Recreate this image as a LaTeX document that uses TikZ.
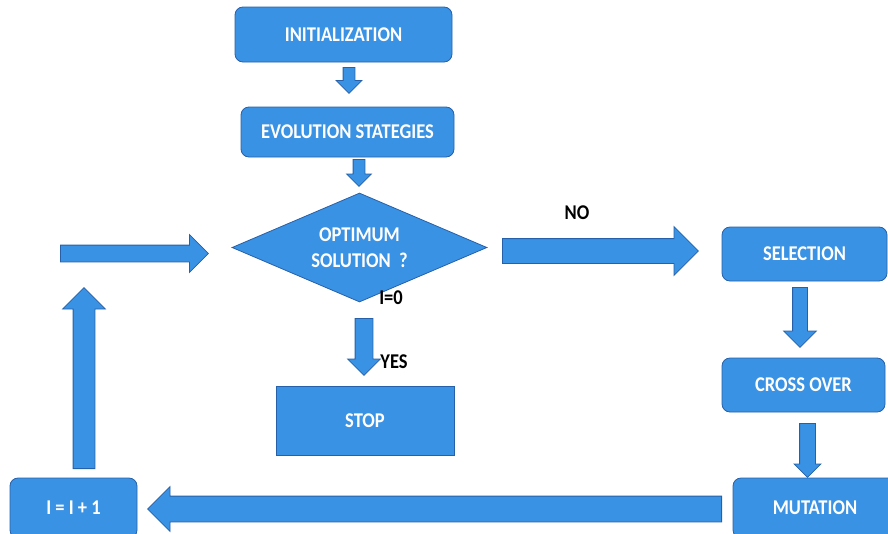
\documentclass[tikz,border=0pt]{standalone}
\usepackage{fontspec}
\setmainfont{Carlito}[FakeStretch=0.88]
\usetikzlibrary{shapes.geometric,shapes.arrows}
\definecolor{boxblue}{RGB}{58,146,228}
\definecolor{edgeblue}{RGB}{38,96,168}
\begin{document}
\begin{tikzpicture}[x=1pt,y=-1pt]
\tikzstyle{every node}=[font=\fontsize{21}{26}\selectfont\bfseries]
\tikzstyle{box}=[draw=edgeblue,fill=boxblue,text=white,line width=0.8pt,rounded corners=8pt,inner sep=0pt]
\tikzstyle{barrow}=[draw=edgeblue,fill=boxblue,line width=0.8pt,single arrow,inner xsep=0pt,single arrow tip angle=90,anchor=tail]
\useasboundingbox (0,0) rectangle (888,533);
% boxes
\node[box,minimum width=217pt,minimum height=55pt](init) at (343.5,34.5) {INITIALIZATION};
\node[box,minimum width=213pt,minimum height=50pt](evo) at (347.5,132) {EVOLUTION STATEGIES};
\node[box,diamond,rounded corners=0pt,aspect=2.34,minimum width=255pt,minimum height=109pt,align=center](opt) at (359.5,247.5) {OPTIMUM\\SOLUTION\ \ ?};
\node[box,rounded corners=0pt,minimum width=178pt,minimum height=69pt](stop) at (365,420.5) {STOP};
\node[box,minimum width=165pt,minimum height=54pt](sel) at (804.5,254) {SELECTION};
\node[box,minimum width=163pt,minimum height=54pt](cross) at (803.5,385) {CROSS OVER};
\node[box,minimum width=164pt,minimum height=60pt](mut) at (815,508) {MUTATION};
\node[box,minimum width=127pt,minimum height=60pt](inc) at (73.5,508) {I = I + 1};
% arrows (placed by their tails)
\node[barrow,rotate=-90,minimum height=26pt,inner ysep=5.5pt,single arrow head extend=7pt](a1) at (349,67) {};
\node[barrow,rotate=-90,minimum height=27pt,inner ysep=5.5pt,single arrow head extend=6.5pt](a2) at (359,159) {};
\node[barrow,rotate=-90,minimum height=57pt,inner ysep=8.5pt,single arrow head extend=7.5pt](a3) at (364,318) {};
\node[barrow,minimum height=196pt,inner ysep=12pt,single arrow head extend=12pt](a4) at (502,251) {};
\node[barrow,rotate=-90,minimum height=60pt,inner ysep=7pt,single arrow head extend=9pt](a5) at (800,287) {};
\node[barrow,rotate=-90,minimum height=54pt,inner ysep=7.5pt,single arrow head extend=5.5pt](a6) at (807.5,423) {};
\node[barrow,rotate=180,minimum height=574pt,inner ysep=12.5pt,single arrow head extend=9.5pt](a7) at (722,509) {};
\node[barrow,rotate=90,minimum height=181pt,inner ysep=10.5pt,single arrow head extend=10.5pt](a8) at (84,469) {};
\node[barrow,minimum height=148pt,inner ysep=8pt,single arrow head extend=10.5pt](a9) at (60,253.5) {};
% labels
\node(no) at (577,213) {NO};
\node(izero) at (391,298) {I=0};
\node(yes) at (394,362) {YES};
\end{tikzpicture}
\end{document}
